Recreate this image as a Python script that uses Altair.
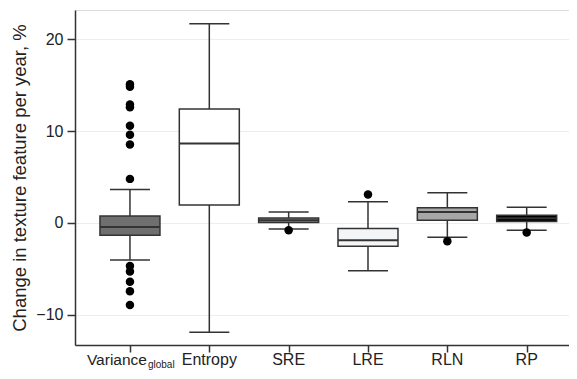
import altair as alt
import pandas as pd

categories = ["Variance", "Entropy", "SRE", "LRE", "RLN", "RP"]
subscripts = ["global", "", "", "", "", ""]
whisker_low = [-4.05, -11.9, -0.65, -5.2, -1.55, -0.8]
q1 = [-1.35, 1.95, 0.05, -2.55, 0.3, 0.15]
median = [-0.45, 8.65, 0.3, -1.9, 1.2, 0.5]
q3 = [0.75, 12.4, 0.55, -0.6, 1.65, 0.85]
whisker_high = [3.65, 21.7, 1.2, 2.3, 3.3, 1.7]
fills = ["#6f6f6f", "#ffffff", "#8e8e8e", "#f4f5f7", "#a7a7a7", "#000000"]

outlier_cat = (["Variance"] * 13) + ["SRE", "LRE", "RLN", "RP"]
outlier_val = [15.1, 14.85, 12.9, 12.6, 10.6, 9.6, 8.55, 4.8,
               -4.7, -5.3, -6.4, -7.45, -8.95,
               -0.8, 3.1, -2.0, -1.05]

y_ticks = [-10, 0, 10, 20]
y_domain = [-13.3, 23.2]

box = pd.DataFrame({
    "cat": categories, "sub": subscripts, "lo": whisker_low, "q1": q1,
    "med": median, "q3": q3, "hi": whisker_high, "fill": fills,
})
out = pd.DataFrame({"cat": outlier_cat, "val": outlier_val})

FONT = "Liberation Sans"
DARK = "#333333"

xs = alt.Scale(type="point", domain=categories, padding=0.613, align=0.565)
ys = alt.Scale(domain=y_domain, nice=False, zero=False)

X = alt.X("cat:N", scale=xs, sort=categories,
          axis=alt.Axis(title=None, labels=False, ticks=True, tickSize=7,
                        tickColor=DARK, tickWidth=1.5, domainColor=DARK,
                        domainWidth=1.5, grid=False))
Yax = alt.Axis(title="Change in texture feature per year, %", values=y_ticks,
               grid=True, gridColor="#e8eff3", gridWidth=1,
               tickSize=8, tickColor=DARK, tickWidth=1.5,
               domainColor=DARK, domainWidth=1.5,
               labelFont=FONT, labelFontSize=16, labelColor="#222222",
               labelPadding=4, titleFont=FONT, titleFontSize=18.5,
               titleFontWeight="normal", titleColor="#222222", titlePadding=6)

base = alt.Chart(box)

whisk = base.mark_rule(color=DARK, strokeWidth=1.5).encode(
    x=X, y=alt.Y("lo:Q", scale=ys, axis=Yax), y2="hi:Q")

bars = base.mark_bar(size=60, stroke=DARK, strokeWidth=1.5).encode(
    x=X, y=alt.Y("q1:Q", scale=ys), y2="q3:Q",
    fill=alt.Fill("fill:N", scale=None))

med = base.mark_tick(size=60, thickness=2, color=DARK, opacity=1).encode(
    x=X, y=alt.Y("med:Q", scale=ys))

cap_lo = base.mark_tick(size=40, thickness=1.5, color=DARK, opacity=1).encode(
    x=X, y=alt.Y("lo:Q", scale=ys))
cap_hi = base.mark_tick(size=40, thickness=1.5, color=DARK, opacity=1).encode(
    x=X, y=alt.Y("hi:Q", scale=ys))

pts = alt.Chart(out).mark_circle(size=72, color="#000000", opacity=1).encode(
    x=X, y=alt.Y("val:Q", scale=ys))

lab_main = base.transform_filter("datum.sub == ''").mark_text(
    font=FONT, fontSize=16, color="#222222", baseline="alphabetic", align="center"
).encode(x=X, y=alt.value(355), text="cat:N")

lab_var = base.transform_filter("datum.sub != ''").mark_text(
    font=FONT, fontSize=15.5, color="#222222", baseline="alphabetic", align="right", dx=17
).encode(x=X, y=alt.value(355), text="cat:N")

lab_sub = base.transform_filter("datum.sub != ''").mark_text(
    font=FONT, fontSize=10, color="#222222", baseline="alphabetic", align="left", dx=18, dy=3
).encode(x=X, y=alt.value(355), text="sub:N")

chart = alt.layer(whisk, bars, med, cap_lo, cap_hi, pts, lab_main, lab_var, lab_sub).properties(
    width=494, height=335,
    autosize=alt.AutoSizeParams(type="none"),
    padding={"left": 67, "top": 2, "right": 0, "bottom": 26},
).configure_view(stroke=None).configure(background="white")

chart.save("out.html", embed_options={"renderer": "svg", "actions": False})
